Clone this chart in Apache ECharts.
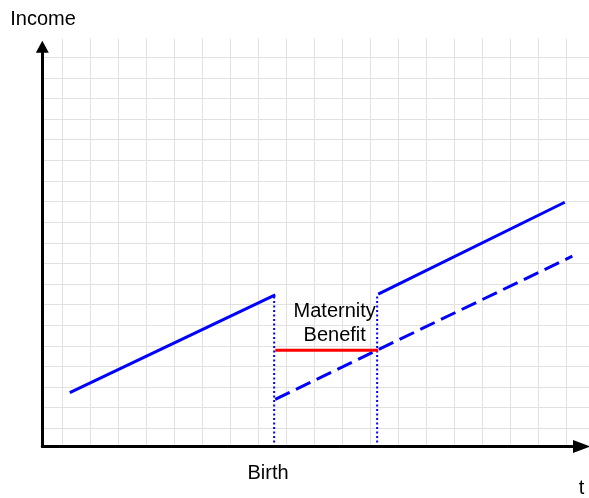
<!DOCTYPE html>
<html>
<head>
<meta charset="utf-8">
<script src="https://cdn.jsdelivr.net/npm/echarts@6/dist/echarts.min.js"></script>
<style>
html,body{margin:0;padding:0;background:#fff;}
#chart{width:589px;height:498px;}
</style>
</head>
<body>
<div id="chart"></div>
<script>
// Values (t: 0..100 along the time axis, income: 0..100 up the income axis)
const incomeBeforeBirth = [[5.1, 13.5], [43.2, 37.9]];
const incomeAfterReturn = [[62.3, 38.1], [96.9, 61.1]];
const incomeWithoutBreak = [[43.2, 11.8], [98.3, 47.6]];
const maternityBenefit = [[43.2, 24.1], [62.3, 24.1]];
const birthMarker = [[43.0, 37.5], [43.0, 0]];
const returnMarker = [[62.1, 37.5], [62.1, 0]];
const axisNames = { x: 't', y: 'Income' };
const eventLabels = { birth: 'Birth', benefit: ['Maternity', 'Benefit'] };
const backgroundCellsX = 18;
const backgroundCellsY = 18;

const font = '20px "Liberation Sans", Arial, sans-serif';
const gridColor = '#e1e1e1';
const blue = '#0000ff';

const chart = echarts.init(document.getElementById('chart'), null, { renderer: 'canvas' });

function hiddenAxis(idx, extra) {
  return Object.assign({
    gridIndex: idx, type: 'value', show: true,
    axisLine: { show: false }, axisTick: { show: false }, axisLabel: { show: false },
    splitLine: { show: false }
  }, extra || {});
}

function label(text, x, y) {
  return { type: 'text', x: x, y: y, z: 100,
    style: { text: text, font: font, fill: '#000', align: 'center', verticalAlign: 'middle' } };
}

chart.setOption({
  animation: false,
  backgroundColor: '#fff',
  grid: [
    { left: 42.3, right: 7.5, top: 46.7, bottom: 51.5 },
    { left: 62.3, right: 22.3, top: 38.3, bottom: 52 },
    { left: 42.3, right: 0, top: 57.3, bottom: 69.7 }
  ],
  xAxis: [
    {
      gridIndex: 0, type: 'value', min: 0, max: 100,
      axisLine: { show: true, onZero: false, symbol: ['none', 'triangle'], symbolSize: [13, 17],
        lineStyle: { color: '#000', width: 3 } },
      axisTick: { show: false }, axisLabel: { show: false }, splitLine: { show: false }, z: 5
    },
    hiddenAxis(1, { min: 0, max: backgroundCellsX, interval: 1,
      splitLine: { show: true, lineStyle: { color: gridColor, width: 1 } }, z: 0 }),
    hiddenAxis(2, { show: false, min: 0, max: 1 })
  ],
  yAxis: [
    {
      gridIndex: 0, type: 'value', min: 0, max: 100,
      axisLine: { show: true, onZero: false, symbol: ['none', 'triangle'], symbolSize: [13, 12],
        lineStyle: { color: '#000', width: 3 } },
      axisTick: { show: false }, axisLabel: { show: false }, splitLine: { show: false }, z: 5
    },
    hiddenAxis(1, { show: false, min: 0, max: 1 }),
    hiddenAxis(2, { min: 0, max: backgroundCellsY, interval: 1,
      splitLine: { show: true, lineStyle: { color: gridColor, width: 1 } }, z: 0 })
  ],
  series: [
    { type: 'line', xAxisIndex: 0, yAxisIndex: 0, data: birthMarker, symbol: 'none',
      lineStyle: { color: blue, width: 2, type: [2, 2.5] }, z: 3 },
    { type: 'line', xAxisIndex: 0, yAxisIndex: 0, data: returnMarker, symbol: 'none',
      lineStyle: { color: blue, width: 2, type: [2, 2.5] }, z: 3 },
    { type: 'line', xAxisIndex: 0, yAxisIndex: 0, data: incomeBeforeBirth, symbol: 'none',
      lineStyle: { color: blue, width: 3 }, z: 4 },
    { type: 'line', xAxisIndex: 0, yAxisIndex: 0, data: incomeAfterReturn, symbol: 'none',
      lineStyle: { color: blue, width: 3 }, z: 4 },
    { type: 'line', xAxisIndex: 0, yAxisIndex: 0, data: incomeWithoutBreak, symbol: 'none',
      lineStyle: { color: blue, width: 3, type: [16, 7] }, z: 4 },
    { type: 'line', xAxisIndex: 0, yAxisIndex: 0, data: maternityBenefit, symbol: 'none',
      lineStyle: { color: '#ff0000', width: 3 }, z: 4 }
  ],
  graphic: [
    label(axisNames.y, 43, 19.7),
    label(axisNames.x, 581.5, 488),
    label(eventLabels.birth, 268, 473),
    label(eventLabels.benefit[0], 334.7, 311.3),
    label(eventLabels.benefit[1], 334.7, 335.7)
  ]
});
</script>
</body>
</html>
